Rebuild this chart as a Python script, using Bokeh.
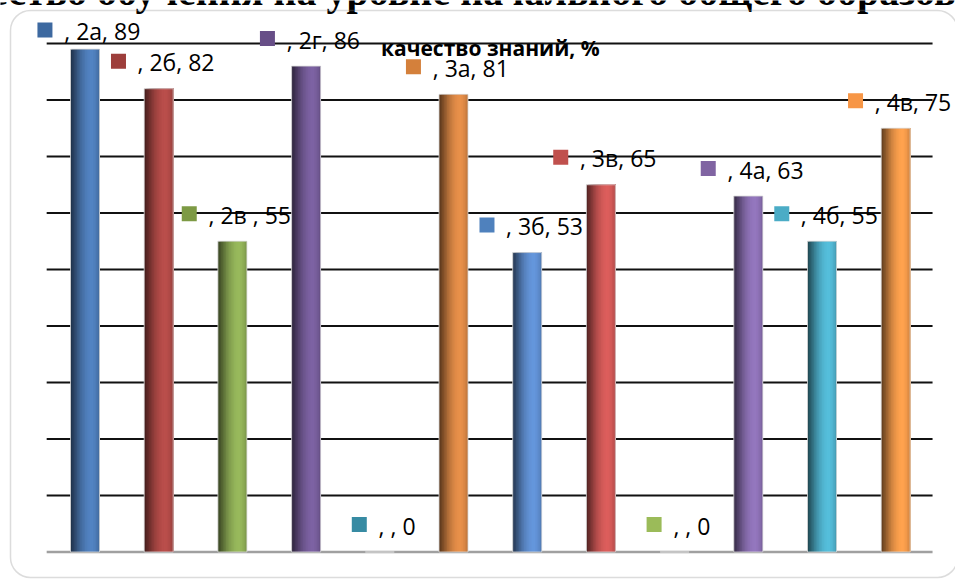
import numpy as np
from bokeh.plotting import figure
from bokeh.models import ColumnDataSource, Range1d, BoxAnnotation
from bokeh.transform import dodge
from bokeh.core.properties import value
from bokeh.embed import file_html
from bokeh.resources import INLINE

# ---------------- data ----------------
categories = ["2а", "2б", "2в ", "2г", "", "3а", "3б", "3в", "", "4а", "4б", "4в"]
values = [89, 82, 55, 86, 0, 81, 53, 65, 0, 63, 55, 75]
bar_colors = ["#5283C2", "#BA4E4B", "#98B95C", "#7D62A3", "#3F95AD", "#E8904A",
              "#6496DC", "#DC5E5C", "#9BBB59", "#9477BE", "#55BEDB", "#FFA24E"]
key_colors = ["#3D69A0", "#9D3E3B", "#7D9A44", "#674E87", "#378BA3", "#D4803B",
              "#4F81BD", "#C0504D", "#9BBB59", "#8064A2", "#4BACC6", "#F79646"]
y_ticks = [0, 10, 20, 30, 40, 50, 60, 70, 80, 90]
chart_title = "качество знаний, %"
page_title = "Качество обучения на уровне начального общего образования"

# ---------------- layout ----------------
W, H = 955, 579
CX0, DX = 84.5, 73.7     # px of first category centre, px per category
Y0, DY = 551.5, 5.65     # px of zero line, px per unit


def px_x(fx):
    return (fx - CX0) / DX


def px_y(fy):
    return (Y0 - fy) / DY


p = figure(width=W, height=H, output_backend="svg", toolbar_location=None,
           x_range=Range1d(px_x(0), px_x(W)), y_range=Range1d(px_y(H), px_y(0)),
           x_axis_location=None, y_axis_location=None, min_border=0)
p.grid.visible = False
p.outline_line_color = None
p.background_fill_color = "white"
p.border_fill_color = "white"

n = len(categories)
xs = list(range(n))

# gridlines
grid_src = ColumnDataSource(dict(y=y_ticks[1:], x0=[-0.52] * (len(y_ticks) - 1),
                                 x1=[n - 0.5] * (len(y_ticks) - 1)))
p.segment(x0="x0", x1="x1", y0="y", y1="y", source=grid_src,
          line_color="#111111", line_width=2.2)
base_src = ColumnDataSource(dict(y=y_ticks[:1], x0=[-0.52], x1=[n - 0.5]))
p.segment(x0="x0", x1="x1", y0="y", y1="y", source=base_src,
          line_color="#a0a0a0", line_width=2.5)

# bars with pseudo cylinder shading (each layer covers from its left edge to the bar's right edge)
bw = 29 / DX
factors = [0.40, 0.47, 0.54, 0.61, 0.68, 0.75, 0.81, 0.86, 0.90, 0.94, 0.97, 0.99,
           1.0, 1.0, 0.98, 0.95, 0.90, 0.84]
ns = len(factors)


def shade(hexc, f):
    h = hexc.lstrip("#")
    r, g, b = (int(h[i:i + 2], 16) for i in (0, 2, 4))
    return "#%02x%02x%02x" % (int(r * f), int(g * f), int(b * f))


bar_data = dict(x=xs, top=values)
for k, f in enumerate(factors):
    bar_data["c%d" % k] = [shade(c, f) for c in bar_colors]
bar_src = ColumnDataSource(bar_data)
sw = bw / ns
for k in range(ns):
    wk = bw - k * sw
    off = -bw / 2 + k * sw + wk / 2
    p.vbar(x=dodge("x", off, range=p.x_range), width=wk, bottom=0, top="top",
           fill_color="c%d" % k, line_color=None, source=bar_src)
p.vbar(x="x", width=bw, bottom=0, top="top", fill_color=None,
       line_color="#d8d8d8", line_width=1, line_alpha=0.8, source=bar_src)

# chart border
p.add_layout(BoxAnnotation(left=px_x(10), right=px_x(957), top=px_y(10), bottom=px_y(577),
                           border_radius=20, fill_alpha=0, line_color="#8c8c8c",
                           line_width=1.5))

# data labels
cw = {",": 0.25, " ": 0.26, "а": 0.556, "б": 0.57, "в": 0.565, "г": 0.435}
fs = 23
labels = [", %s, %d" % (c, v) for c, v in zip(categories, values)]
text_dx = 17.3
widths = [sum(cw.get(ch, 0.572) for ch in t) * fs for t in labels]
key_x = [i + (text_dx - w / 2 - 12 - 7.5) / DX for i, w in zip(xs, widths)]
label_y = [min(v + 27.5 / DY, 92.4) for v in values]
lab_src = ColumnDataSource(dict(x=xs, kx=key_x, y=label_y, text=labels, kc=key_colors))
p.rect(x="kx", y="y", width=15, height=15, width_units="screen", height_units="screen",
       fill_color="kc", line_color=None, source=lab_src)
p.text(x="x", y="y", text="text", x_offset=text_dx, y_offset=1, text_align="center",
       text_baseline="middle", text_font=value("Open Sans"), text_font_size="%dpx" % fs,
       text_color="#000000", source=lab_src)

# inner title
p.text(x=[(n - 1) / 2], y=[px_y(47.5)], text=[chart_title], text_align="center",
       text_baseline="middle", text_font=value("Open Sans"), text_font_style="bold",
       text_font_size="21px", text_color="#000000")

# cut-off page heading above the chart
p.text(x=[px_x(-80)], y=[px_y(-9.5)], text=[page_title], text_align="left",
       text_baseline="alphabetic", text_font=value("Liberation Serif"),
       text_font_style="bold", text_font_size="40px", text_color="#000000")

open("out.html", "w").write(file_html(p, INLINE))
